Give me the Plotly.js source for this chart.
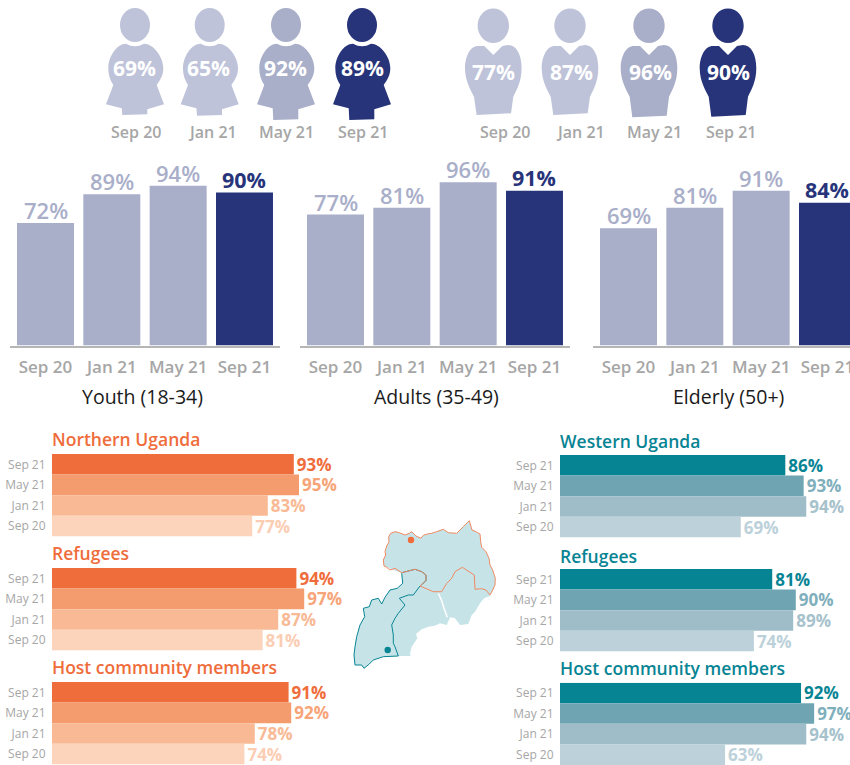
<!DOCTYPE html>
<html><head><meta charset="utf-8">
<script src="https://cdn.plot.ly/plotly-3.0.1.min.js"></script>
<style>html,body{margin:0;padding:0;background:#fff;overflow:hidden}</style>
</head><body><div id="chart" style="width:850px;height:765px"></div>
<script>
// ---- data ----
const periods = ['Sep 20', 'Jan 21', 'May 21', 'Sep 21'];
const womenValues = [69, 65, 92, 89];
const menValues = [77, 87, 96, 90];
const youthValues = [72, 89, 94, 90];
const adultsValues = [77, 81, 96, 91];
const elderlyValues = [69, 81, 91, 84];
const ageTitles = ['Youth (18-34)', 'Adults (35-49)', 'Elderly (50+)'];
const rowPeriods = ['Sep 21', 'May 21', 'Jan 21', 'Sep 20'];
const northernOverall = [93, 95, 83, 77];
const northernRefugees = [94, 97, 87, 81];
const northernHost = [91, 92, 78, 74];
const westernOverall = [86, 93, 94, 69];
const westernRefugees = [81, 90, 89, 74];
const westernHost = [92, 97, 94, 63];
const northTitles = ['Northern Uganda', 'Refugees', 'Host community members'];
const westTitles = ['Western Uganda', 'Refugees', 'Host community members'];

// ---- styles ----
const W = 850, H = 765, FONT = '"Open Sans", sans-serif';
const NAVY = '#27347a', MID = '#a9aec9', PALE = '#bec3d9', GREY = '#a6a6a6';
const ORANGES = ['#ef6c3b', '#f59c6e', '#f8b994', '#fcd3bb'];
const ORANGE_TXT = ['#ef6c3b', '#f7a478', '#f8b994', '#fbcdb3'];
const TEALS = ['#078494', '#6fa5b3', '#9fbdc8', '#bcd1d9'];
const TEAL_TXT = ['#078494', '#7fafbc', '#a6c2cc', '#bcd1d9'];

const data = [], layout = {
  width: W, height: H, margin: {l: 0, r: 0, t: 0, b: 0},
  paper_bgcolor: '#fff', plot_bgcolor: 'rgba(0,0,0,0)', showlegend: false,
  bargap: 0.141, font: {family: FONT}, shapes: [], annotations: [],
  // overlay axes: one unit = one page pixel, used for the icons, map and captions
  xaxis: {domain: [0, 1], range: [0, W], visible: false, fixedrange: true},
  yaxis: {domain: [0, 1], range: [H, 0], visible: false, fixedrange: true}
};
const yDom = (top, bot) => [(H - bot) / H, (H - top) / H];
function note(text, x, y, size, color, weight, anchor) {
  layout.annotations.push({text, x, y, xref: 'x', yref: 'y', showarrow: false,
    xanchor: anchor || 'center', yanchor: 'middle',
    font: {family: FONT, size, color, weight: weight || 400}});
}

// ---- vertical age panels ----
const STEP = 66.33, BAR_PPU = 1.70, BASE = 345.5;
const ageSets = [youthValues, adultsValues, elderlyValues];
const panels = [
  {l: 10, r: 280, c0: 45.5, tx: 142},
  {l: 300, r: 570, c0: 335.5, tx: 436},
  {l: 593, r: 850, c0: 628.5, tx: 728}
];
let axisN = 2;
panels.forEach((p, i) => {
  const n = axisN++;
  const v = ageSets[i];
  data.push({type: 'bar', x: periods, y: v, xaxis: 'x' + n, yaxis: 'y' + n,
    marker: {color: v.map((_, k) => k === 3 ? NAVY : MID), line: {width: 0}},
    hoverinfo: 'skip'});
  v.forEach((d, k) => layout.annotations.push({text: d + '%', x: periods[k], y: d,
    xref: 'x' + n, yref: 'y' + n, showarrow: false, xanchor: 'center', yanchor: 'middle', yshift: 13,
    font: {family: FONT, size: k === 3 ? 21.5 : 22, color: k === 3 ? NAVY : MID, weight: k === 3 ? 700 : 600}}));
  layout['xaxis' + n] = {domain: [p.l / W, p.r / W], anchor: 'y' + n, type: 'category',
    categoryorder: 'array', categoryarray: periods,
    range: [-(p.c0 - p.l) / STEP, (p.r - p.c0) / STEP],
    showline: true, linecolor: '#b6b6b6', linewidth: 2, showgrid: false, zeroline: false,
    ticks: 'outside', ticklen: 5, tickcolor: 'rgba(0,0,0,0)',
    tickfont: {family: FONT, size: 17, color: GREY, weight: 600}, fixedrange: true};
  layout['yaxis' + n] = {domain: yDom(BASE - 110 * BAR_PPU, BASE), anchor: 'x' + n,
    range: [0, 110], visible: false, fixedrange: true};
  note(ageTitles[i], p.tx, 396, 19.5, '#1a1a1a');
});

// ---- horizontal region panels ----
const ROW = 20.6;
const regionPanels = [
  {vals: northernOverall, top: 454, left: 52, right: 350, ppu: 2.6, col: ORANGES, txt: ORANGE_TXT, title: northTitles[0], ty: 439},
  {vals: northernRefugees, top: 568, left: 52, right: 350, ppu: 2.6, col: ORANGES, txt: ORANGE_TXT, title: northTitles[1], ty: 553},
  {vals: northernHost, top: 682, left: 52, right: 350, ppu: 2.6, col: ORANGES, txt: ORANGE_TXT, title: northTitles[2], ty: 667},
  {vals: westernOverall, top: 455, left: 560, right: 850, ppu: 2.62, col: TEALS, txt: TEAL_TXT, title: westTitles[0], ty: 441},
  {vals: westernRefugees, top: 569, left: 560, right: 850, ppu: 2.62, col: TEALS, txt: TEAL_TXT, title: westTitles[1], ty: 556},
  {vals: westernHost, top: 682.7, left: 560, right: 850, ppu: 2.62, col: TEALS, txt: TEAL_TXT, title: westTitles[2], ty: 668}
];
regionPanels.forEach(p => {
  const n = axisN++;
  const bottom = Math.min(p.top + 4 * ROW, H);
  data.push({type: 'bar', orientation: 'h', y: rowPeriods, x: p.vals, xaxis: 'x' + n, yaxis: 'y' + n,
    width: 1, marker: {color: p.col, line: {width: 0}},
    text: p.vals.map(d => d + '%'), textposition: 'outside', constraintext: 'none', cliponaxis: false,
    textfont: {family: FONT, size: 17, color: p.txt, weight: 700}, hoverinfo: 'skip'});
  layout['xaxis' + n] = {domain: [p.left / W, p.right / W], anchor: 'y' + n,
    range: [0, (p.right - p.left) / p.ppu], visible: false, fixedrange: true};
  layout['yaxis' + n] = {domain: yDom(p.top, bottom), anchor: 'x' + n, type: 'category',
    categoryorder: 'array', categoryarray: rowPeriods, range: [3.5, -0.5],
    showline: false, showgrid: false, zeroline: false,
    ticks: 'outside', ticklen: 3, tickcolor: 'rgba(0,0,0,0)',
    tickfont: {family: FONT, size: 12, color: GREY}, fixedrange: true};
  note(p.title, p.left - 2, p.ty, 17.5, p.col[0], 600, 'left');
});

// ---- person icons (decoration; coordinates measured at 3x, relative to icon centre) ----
const pict = (dx, path) => path.replace(/(-?[\d.]+),(-?[\d.]+)/g,
  (m, a, b) => (dx + a / 3).toFixed(1) + ',' + (b / 3).toFixed(1));
const iconShape = (path, color) => ({type: 'path', path, xref: 'x', yref: 'y',
  fillcolor: color, line: {width: 0}, layer: 'below'});
const headShape = (cx, cy, rx, ry, color) => ({type: 'circle', xref: 'x', yref: 'y',
  x0: cx - rx, x1: cx + rx, y0: cy - ry, y1: cy + ry, fillcolor: color, line: {width: 0}, layer: 'below'});
const iconCols = [PALE, PALE, MID, NAVY];
const womanCx = [135, 209.7, 286, 362], womanHem = [345, 347, 360, 360];
const womanLabelX = [136, 212.5, 286, 362.5], womanPctX = [134, 208, 285, 362];
const manCx = [493.3, 570, 649, 728], manHem = [345, 345, 352, 350];
const manLabelX = [504.5, 580.5, 654.5, 730.5], manPctX = [493, 571, 650, 728];
womanCx.forEach((cx, i) => {
  const b = womanHem[i];
  layout.shapes.push(headShape(cx, 25, 15, 17, iconCols[i]));
  layout.shapes.push(iconShape(pict(cx,
    `M-27,131 Q0,146 27,131 C55,131 85,170 85,205 C85,225 76,240 65,255 L87,313 L37,328 L37,${b-2} L-38,${b} L-40,325 L-87,313 L-65,255 C-75,240 -80,225 -80,205 C-80,170 -55,131 -27,131 Z`), iconCols[i]));
  note(womenValues[i] + '%', womanPctX[i], 68, 21, '#ffffff', 700);
  note(periods[i], womanLabelX[i], 132, 16, GREY, 600);
});
manCx.forEach((cx, i) => {
  const b = manHem[i];
  layout.shapes.push(headShape(cx, 25.7, 15.7, 17.3, iconCols[i]));
  layout.shapes.push(iconShape(pict(cx,
    `M-27,138 L0,165 L27,138 L45,135 C70,135 85,165 85,205 C85,245 70,270 60,290 L53,${b-5} L-50,${b} L-58,290 C-65,275 -85,245 -85,205 C-85,170 -70,138 -45,138 Z`), iconCols[i]));
  note(menValues[i] + '%', manPctX[i], 72, 21, '#ffffff', 700);
  note(periods[i], manLabelX[i], 132, 16, GREY, 600);
});

// ---- map (decoration; outline traced at 3x from a crop at 340,510) ----
const mapPath = (pts, close) => pts.map((p, i) =>
  (i ? 'L' : 'M') + (340 + p[0] / 3).toFixed(1) + ',' + (510 + p[1] / 3).toFixed(1)).join(' ') + (close ? ' Z' : '');
const northOutline = [[135,125],[140,108],[147,95],[146,80],[152,70],[165,65],[178,68],[195,75],[208,70],[215,65],[228,78],[243,85],[250,76],[262,72],[275,70],[290,65],[310,58],[325,68],[350,70],[370,50],[388,32],[396,60],[408,65],[420,72],[422,95],[425,112],[438,125],[447,145],[450,165],[458,180],[466,205],[465,225],[458,240],[450,255],[438,240],[425,236],[405,238],[403,195],[367,172],[345,185],[335,205],[320,220],[305,245],[280,245],[240,228],[258,212],[258,195],[245,185],[225,178],[205,183],[185,188],[165,175],[150,180],[140,172],[132,168],[130,150],[137,135]];
const westOutline = [[185,190],[188,220],[172,235],[150,240],[135,262],[125,282],[115,265],[95,270],[88,290],[70,295],[74,320],[60,345],[50,380],[45,410],[42,435],[45,465],[65,465],[72,475],[88,462],[100,450],[130,440],[175,438],[165,410],[160,400],[160,375],[155,345],[165,325],[175,310],[195,285],[178,265],[205,255],[220,255],[240,228],[258,212],[258,195],[245,185],[225,178],[185,188]];
const eastOutline = [[450,258],[432,265],[420,280],[405,305],[395,315],[385,342],[360,345],[345,325],[330,322],[320,345],[300,340],[285,347],[265,350],[245,358],[228,372],[232,385],[215,410],[210,430],[212,438],[175,438]];
const nile = [[295,250],[305,272],[312,295],[322,322]];
const westSouthToNorth = westOutline.slice(0, 21).reverse();
const countryFill = northOutline.slice(0, 34).concat(eastOutline, westSouthToNorth, northOutline.slice(53));
layout.shapes.push({type: 'path', path: mapPath(countryFill, true), xref: 'x', yref: 'y',
  fillcolor: '#c6e4e7', line: {width: 0}, layer: 'below'});
layout.shapes.push({type: 'path', path: mapPath(nile), xref: 'x', yref: 'y', line: {color: '#ffffff', width: 1.5}, layer: 'below'});
layout.shapes.push({type: 'path', path: mapPath(westOutline), xref: 'x', yref: 'y', line: {color: '#078494', width: 1}, layer: 'below'});
layout.shapes.push({type: 'path', path: mapPath(northOutline, true), xref: 'x', yref: 'y', line: {color: '#f08a63', width: 1}, layer: 'below'});
layout.shapes.push(headShape(411, 540, 3.2, 3.2, '#ef6c3b'));
layout.shapes.push(headShape(387.7, 650, 3.2, 3.2, '#078494'));

Plotly.newPlot('chart', data, layout, {displayModeBar: false, staticPlot: true});
</script></body></html>
